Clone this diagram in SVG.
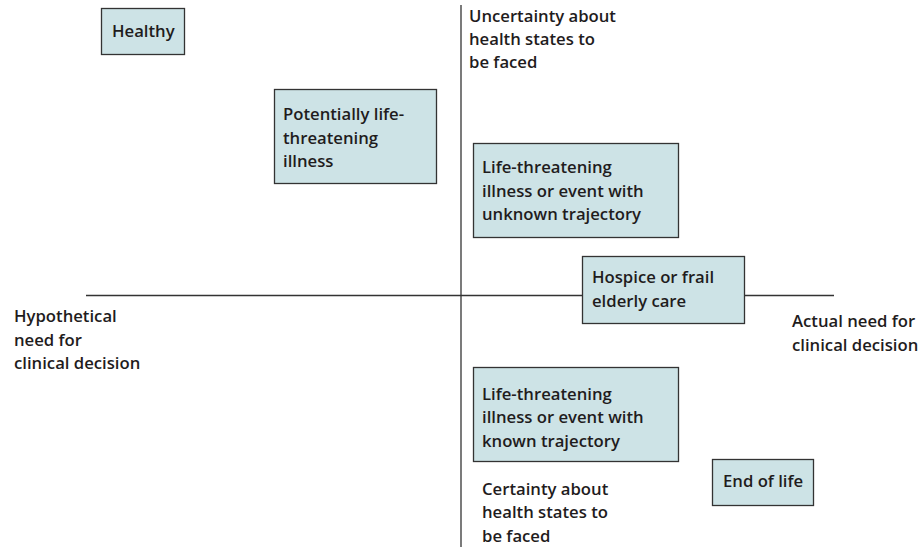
<svg xmlns="http://www.w3.org/2000/svg" width="921" height="547" viewBox="0 0 921 547">
<style>
.box{fill:#cde3e6;stroke:#333;stroke-width:1.3}
.axis{stroke:#333;stroke-width:1.3;fill:none}
text{font-family:"Open Sans","Liberation Sans",sans-serif;font-weight:600;font-size:16.7px;fill:#1f1c1d}
</style>
<rect width="921" height="547" fill="#fff"/>
<g id="connectors">
<line class="axis" x1="461" y1="5" x2="461" y2="547"/>
<line class="axis" x1="86" y1="295.5" x2="834" y2="295.5"/>
</g>
<g id="label-uncertainty">
<text x="469" y="22">Uncertainty about</text>
<text x="469" y="45">health states to</text>
<text x="469" y="68">be faced</text>
</g>
<g id="label-hypothetical">
<text x="14" y="322">Hypothetical</text>
<text x="14" y="346">need for</text>
<text x="14" y="369">clinical decision</text>
</g>
<g id="label-actual">
<text x="792" y="327">Actual need for</text>
<text x="792" y="351">clinical decision</text>
</g>
<g id="label-certainty">
<text x="482" y="495">Certainty about</text>
<text x="482" y="518">health states to</text>
<text x="482" y="542">be faced</text>
</g>
<g id="healthy">
<rect class="box" x="101.5" y="8.5" width="83" height="46"/>
<text x="112" y="37">Healthy</text>
</g>
<g id="potentially">
<rect class="box" x="274.5" y="89.5" width="162" height="94"/>
<text x="283" y="120">Potentially life-</text>
<text x="283" y="144">threatening</text>
<text x="283" y="167">illness</text>
</g>
<g id="unknown">
<rect class="box" x="473.5" y="143.5" width="205" height="94"/>
<text x="482" y="173">Life-threatening</text>
<text x="482" y="197">illness or event with</text>
<text x="482" y="220">unknown trajectory</text>
</g>
<g id="hospice">
<rect class="box" x="582.5" y="256.5" width="162" height="67"/>
<text x="592" y="283">Hospice or frail</text>
<text x="592" y="307">elderly care</text>
</g>
<g id="known">
<rect class="box" x="473.5" y="367.5" width="205" height="94"/>
<text x="482" y="400">Life-threatening</text>
<text x="482" y="423">illness or event with</text>
<text x="482" y="447">known trajectory</text>
</g>
<g id="endoflife">
<rect class="box" x="712.5" y="459.5" width="101" height="46"/>
<text x="723" y="487">End of life</text>
</g>
</svg>
